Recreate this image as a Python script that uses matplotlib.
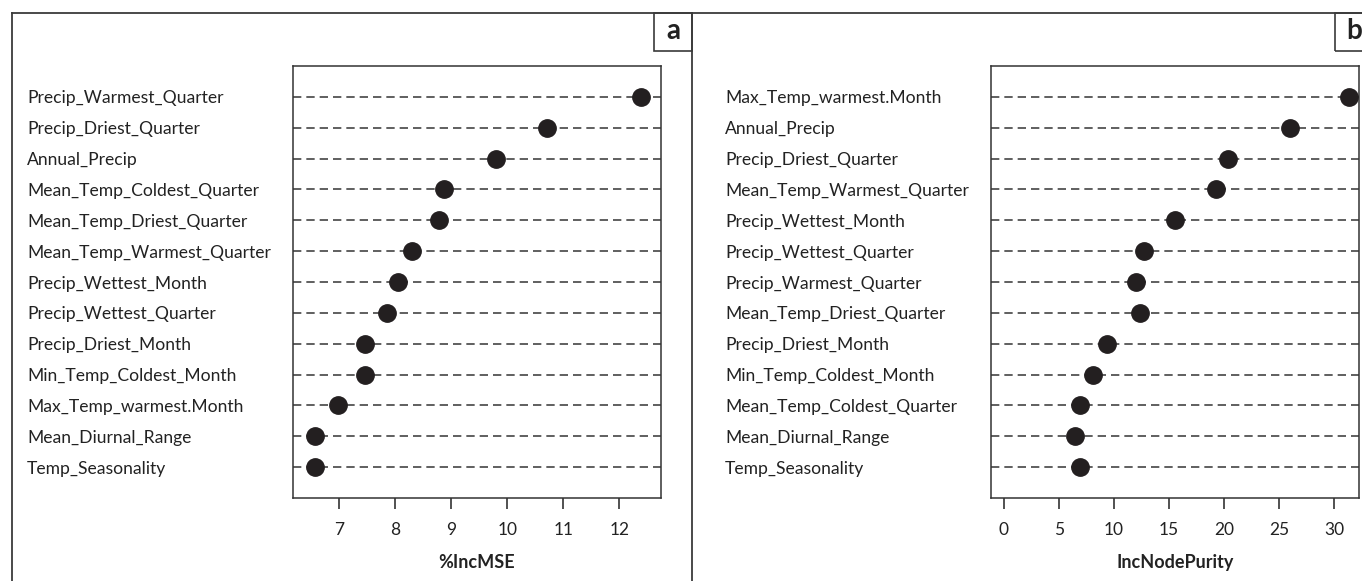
import numpy as np
import matplotlib
matplotlib.use('Agg')
import matplotlib.pyplot as plt
from matplotlib.lines import Line2D
from matplotlib.patches import Rectangle

plt.rcParams['font.family'] = ['Lato', 'DejaVu Sans']

# panel a: %IncMSE (bottom to top)
vars_a = ['Temp_Seasonality', 'Mean_Diurnal_Range', 'Max_Temp_warmest.Month',
          'Min_Temp_Coldest_Month', 'Precip_Driest_Month', 'Precip_Wettest_Quarter',
          'Precip_Wettest_Month', 'Mean_Temp_Warmest_Quarter', 'Mean_Temp_Driest_Quarter',
          'Mean_Temp_Coldest_Quarter', 'Annual_Precip', 'Precip_Driest_Quarter',
          'Precip_Warmest_Quarter']
inc_mse = [6.57, 6.57, 6.98, 7.46, 7.46, 7.85, 8.05, 8.30, 8.78, 8.87, 9.79, 10.71, 12.38]

# panel b: IncNodePurity (bottom to top)
vars_b = ['Temp_Seasonality', 'Mean_Diurnal_Range', 'Mean_Temp_Coldest_Quarter',
          'Min_Temp_Coldest_Month', 'Precip_Driest_Month', 'Mean_Temp_Driest_Quarter',
          'Precip_Warmest_Quarter', 'Precip_Wettest_Quarter', 'Precip_Wettest_Month',
          'Mean_Temp_Warmest_Quarter', 'Precip_Driest_Quarter', 'Annual_Precip',
          'Max_Temp_warmest.Month']
node_purity = [6.9, 6.5, 6.9, 8.1, 9.4, 12.4, 12.0, 12.75, 15.5, 19.3, 20.4, 26.0, 31.4]

W, H = 1362, 581
fig = plt.figure(figsize=(W / 100, H / 100), dpi=100)

def fx(px):
    return px / W

def fy(py):
    return 1 - py / H

frame_col = '#3a3a3a'

def panel(left_px, right_px, label_px, names, vals, xlim, xticks, xlabel):
    ax = fig.add_axes([fx(left_px), fy(498), fx(right_px - left_px), (498 - 66) / H])
    y = np.arange(1, len(vals) + 1)
    for yy in y:
        ax.axhline(yy, color='#444444', lw=1.2, ls=(0, (5, 3)), zorder=1)
    ax.plot(vals, y, 'o', color='#231f20', ms=12.5, mec='#231f20', zorder=3)
    ax.set_xlim(*xlim)
    ax.set_ylim(0, len(vals) + 1)
    ax.set_xticks(xticks)
    ax.tick_params(axis='x', length=8, width=1.2, color='#333333', pad=9,
                   labelsize=12.5, labelcolor='#222222')
    ax.set_yticks(y)
    ax.set_yticklabels(names, ha='left', fontsize=12.6, color='#222222')
    ax.tick_params(axis='y', length=0, pad=(left_px - label_px) * 0.72)
    for s in ax.spines.values():
        s.set_color('#333333')
        s.set_linewidth(1.1)
    ax.set_xlabel(xlabel, fontsize=13, fontweight='bold', color='#222222', labelpad=12)
    return ax

panel(293, 661, 27, vars_a, inc_mse, (6.18, 12.74), [7, 8, 9, 10, 11, 12], '%IncMSE')
panel(991, 1359, 725, vars_b, node_purity, (-1.18, 32.27), [0, 5, 10, 15, 20, 25, 30], 'IncNodePurity')

# outer panel frames
def fline(x0, y0, x1, y1):
    fig.add_artist(Line2D([fx(x0), fx(x1)], [fy(y0), fy(y1)], color=frame_col, lw=1.3))

fline(12, 13, 1362, 13)
fline(12, 13, 12, 581)
fline(692, 13, 692, 581)

# panel letters
for x0, x1, letter in [(654, 692, 'a'), (1335, 1375, 'b')]:
    fig.add_artist(Rectangle((fx(x0), fy(51)), fx(x1 - x0), (51 - 13) / H,
                             fill=False, ec=frame_col, lw=1.2, transform=fig.transFigure))
    fig.text(fx(x0 + 19), fy(31), letter, fontsize=20, fontweight='bold',
             ha='center', va='center', color='#222222')

fig.savefig('out.png', dpi=100)
